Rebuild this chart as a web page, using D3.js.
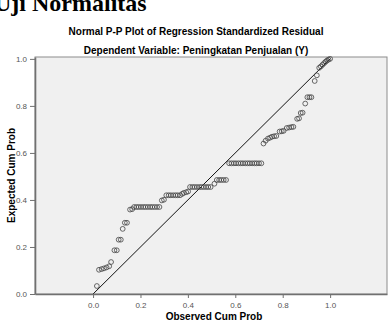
<!DOCTYPE html>
<html>
<head>
<meta charset="utf-8">
<script src="https://cdn.jsdelivr.net/npm/d3@7"></script>
<style>
  body { margin: 0; background: #fff; }
  svg { display: block; }
</style>
</head>
<body>
<div id="plot"></div>
<script>
// Texts
const heading = "Uji Normalitas";
const title = "Normal P-P Plot of Regression Standardized Residual";
const subtitle = "Dependent Variable: Peningkatan Penjualan (Y)";
const xLabel = "Observed Cum Prob";
const yLabel = "Expected Cum Prob";
const ticks = [0, 0.2, 0.4, 0.6, 0.8, 1.0];

// Points (observed, expected)
const observed = [
  0.016, 0.025, 0.036, 0.046, 0.057, 0.068, 0.076, 0.090, 0.100, 0.108,
  0.117, 0.125, 0.134, 0.143, 0.156, 0.165,
  0.173, 0.183, 0.192, 0.202, 0.212, 0.221, 0.231, 0.241, 0.250, 0.260, 0.270, 0.280,
  0.290, 0.299,
  0.309, 0.319, 0.328, 0.338, 0.348, 0.357, 0.367,
  0.376, 0.383, 0.393, 0.401,
  0.409, 0.419, 0.428, 0.438, 0.448, 0.457, 0.467, 0.477, 0.486, 0.496,
  0.512,
  0.522, 0.532, 0.541, 0.551, 0.561,
  0.574, 0.584, 0.594, 0.603, 0.613, 0.623, 0.632, 0.642, 0.652, 0.661, 0.671, 0.681, 0.690, 0.700, 0.710,
  0.719, 0.728, 0.738, 0.747, 0.755, 0.764, 0.773, 0.787, 0.796, 0.804,
  0.817, 0.827, 0.837, 0.845, 0.861, 0.869, 0.876, 0.884, 0.895,
  0.904, 0.913, 0.921, 0.935, 0.944, 0.954, 0.961, 0.968, 0.975, 0.981, 0.987, 0.993, 1.000
];
const expected = [
  0.034, 0.103, 0.106, 0.109, 0.113, 0.118, 0.136, 0.186, 0.186, 0.231,
  0.231, 0.277, 0.303, 0.303, 0.359, 0.361,
  0.370, 0.370, 0.370, 0.370, 0.370, 0.370, 0.370, 0.370, 0.370, 0.370, 0.370, 0.370,
  0.398, 0.401,
  0.420, 0.420, 0.420, 0.420, 0.420, 0.420, 0.420,
  0.426, 0.430, 0.433, 0.436,
  0.455, 0.455, 0.455, 0.455, 0.455, 0.455, 0.455, 0.455, 0.455, 0.455,
  0.469,
  0.485, 0.485, 0.485, 0.485, 0.485,
  0.556, 0.556, 0.556, 0.556, 0.556, 0.556, 0.556, 0.556, 0.556, 0.556, 0.556, 0.556, 0.556, 0.556, 0.556,
  0.640, 0.652, 0.661, 0.665, 0.669, 0.671, 0.672, 0.691, 0.692, 0.694,
  0.706, 0.708, 0.710, 0.711, 0.745, 0.747, 0.770, 0.771, 0.810,
  0.837, 0.837, 0.837, 0.906, 0.930, 0.962, 0.968, 0.975, 0.982, 0.988, 0.993, 0.997, 1.000
];

const width = 392;
const height = 324;
const box = {left: 35, right: 387, top: 57, bottom: 294};

const svg = d3.select("#plot")
  .append("svg")
  .attr("width", width)
  .attr("height", height);

const x = d3.scaleLinear([-0.245, 1.24], [box.left, box.right]);
const y = d3.scaleLinear([0, 1.008], [box.bottom, box.top]);

// Page heading, cut at the top like the scan
svg.append("text")
  .attr("x", -6)
  .attr("y", 11)
  .style("font-family", "'Liberation Serif', 'Times New Roman', serif")
  .style("font-weight", "bold")
  .style("font-size", "24px")
  .text(heading);

svg.append("text")
  .attr("x", width / 2)
  .attr("y", 35)
  .attr("text-anchor", "middle")
  .style("font-family", "'Liberation Sans', Arial, sans-serif")
  .style("font-weight", "bold")
  .style("font-size", "10px")
  .text(title);

svg.append("text")
  .attr("x", width / 2)
  .attr("y", 54)
  .attr("text-anchor", "middle")
  .style("font-family", "'Liberation Sans', Arial, sans-serif")
  .style("font-weight", "bold")
  .style("font-size", "10px")
  .text(subtitle);

// Plot background and frame
svg.append("rect")
  .attr("x", box.left)
  .attr("y", box.top)
  .attr("width", box.right - box.left)
  .attr("height", box.bottom - box.top)
  .attr("fill", "#f0f0f0")
  .attr("stroke", "#8c8c8c")
  .attr("stroke-width", 1);

// Reference line
svg.append("line")
  .attr("x1", x(0))
  .attr("y1", y(0))
  .attr("x2", x(1))
  .attr("y2", y(1))
  .attr("stroke", "#111")
  .attr("stroke-width", 1);

svg.append("g")
  .selectAll("circle")
  .data(observed)
  .join("circle")
    .attr("cx", d => x(d))
    .attr("cy", (d, i) => y(expected[i]))
    .attr("r", 2.4)
    .attr("fill", "none")
    .attr("stroke", "#444")
    .attr("stroke-width", 0.8);

// Axes
const fmt = d3.format(".1f");
const xG = svg.append("g")
  .attr("transform", `translate(0, ${box.bottom})`)
  .call(d3.axisBottom(x).tickValues(ticks).tickFormat(fmt).tickSize(4).tickSizeOuter(0));
const yG = svg.append("g")
  .attr("transform", `translate(${box.left}, 0)`)
  .call(d3.axisLeft(y).tickValues(ticks).tickFormat(fmt).tickSize(5).tickSizeOuter(0));

[xG, yG].forEach(g => {
  g.select(".domain").attr("stroke", "#707070").attr("stroke-width", 1.6);
  g.selectAll(".tick line").attr("stroke", "#707070");
  g.selectAll(".tick text")
    .attr("fill", "#555")
    .style("font-family", "'Liberation Sans', Arial, sans-serif")
    .style("font-size", "8px");
});
xG.selectAll(".tick text").attr("dy", "0.9em");

svg.append("text")
  .attr("x", (box.left + box.right) / 2 + 3)
  .attr("y", 320)
  .attr("text-anchor", "middle")
  .style("font-family", "'Liberation Sans', Arial, sans-serif")
  .style("font-weight", "bold")
  .style("font-size", "10px")
  .text(xLabel);

svg.append("text")
  .attr("transform", `translate(15, ${(box.top + box.bottom) / 2}) rotate(-90)`)
  .attr("text-anchor", "middle")
  .style("font-family", "'Liberation Sans', Arial, sans-serif")
  .style("font-weight", "bold")
  .style("font-size", "10px")
  .text(yLabel);
</script>
</body>
</html>
